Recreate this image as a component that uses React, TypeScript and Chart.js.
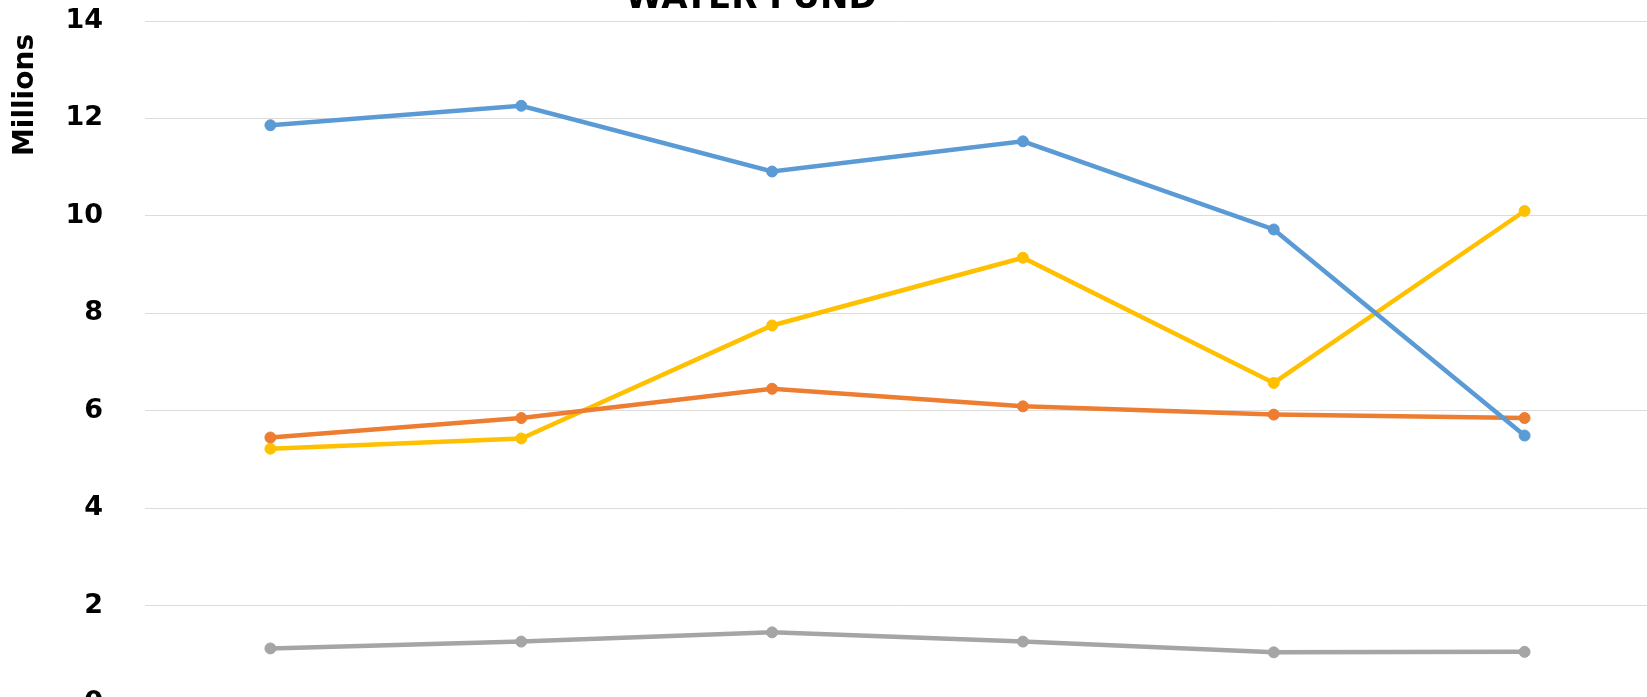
import React, { useEffect, useRef } from "react";
import { Chart, registerables } from "chart.js";

Chart.register(...registerables);

// Category labels are cropped off the bottom of the reference image
const categories = ["1", "2", "3", "4", "5", "6"];

const seriesBlue = [11.86, 12.26, 10.91, 11.53, 9.72, 5.49];
const seriesOrange = [5.45, 5.85, 6.45, 6.09, 5.92, 5.85];
const seriesGray = [1.12, 1.26, 1.45, 1.26, 1.04, 1.05];
const seriesYellow = [5.22, 5.43, 7.75, 9.14, 6.57, 10.1];

const seriesNames = ["Series 1", "Series 2", "Series 3", "Series 4"];

const yTicks = [0, 2, 4, 6, 8, 10, 12, 14];

const chartTitle = "WATER FUND";
const yAxisTitle = "Millions";

const TOP_OFFSET = 40;
const CANVAS_W = 1660;
const CANVAS_H = 750;

export default function App() {
  const ref = useRef<HTMLCanvasElement | null>(null);

  useEffect(() => {
    document.body.style.margin = "0";
    const canvas = ref.current;
    if (!canvas) return;

    const textPlugin = {
      id: "textPlugin",
      afterDraw(chart: any) {
        const ctx = chart.ctx;
        ctx.save();
        // chart title (only its lower part is visible in the frame)
        ctx.font = "bold 34px 'DejaVu Sans'";
        ctx.fillStyle = "#000000";
        ctx.textAlign = "center";
        ctx.textBaseline = "alphabetic";
        ctx.fillText(chartTitle, 751, TOP_OFFSET + 8);
        // y axis title
        ctx.translate(26, TOP_OFFSET + 95);
        ctx.rotate(-Math.PI / 2);
        ctx.font = "bold 28px 'DejaVu Sans'";
        ctx.textBaseline = "middle";
        ctx.fillText(yAxisTitle, 0, 0);
        ctx.restore();
      },
    };

    const mk = (label: string, data: number[], color: string) => ({
      label,
      data,
      borderColor: color,
      backgroundColor: color,
      borderWidth: 4.5,
      pointRadius: 5.5,
      pointBorderWidth: 1,
      pointBackgroundColor: color,
      pointBorderColor: color,
      tension: 0,
    });

    const chart = new Chart(canvas, {
      type: "line",
      data: {
        labels: categories,
        datasets: [
          mk(seriesNames[0], seriesBlue, "#5B9BD5"),
          mk(seriesNames[1], seriesOrange, "#ED7D31"),
          mk(seriesNames[2], seriesGray, "#A5A5A5"),
          mk(seriesNames[3], seriesYellow, "#FFC000"),
        ],
      },
      options: {
        responsive: false,
        animation: false,
        layout: { padding: { top: TOP_OFFSET + 21, bottom: 7, left: 0, right: 10 } },
        plugins: {
          legend: { display: false },
          tooltip: { enabled: false },
          title: { display: false },
        },
        scales: {
          x: {
            type: "category",
            offset: true,
            grid: { display: false, drawTicks: false },
            border: { display: false },
            ticks: { display: false },
          },
          y: {
            min: 0,
            max: 14,
            afterFit(scale: any) {
              scale.width = 145;
              scale.paddingTop = 0;
              scale.paddingBottom = 0;
            },
            afterBuildTicks(scale: any) {
              scale.ticks = yTicks.map((v) => ({ value: v }));
            },
            grid: { color: "#DCDCDC", lineWidth: 1, drawTicks: false },
            border: { display: false },
            ticks: {
              padding: 42,
              color: "#000000",
              font: { family: "'DejaVu Sans'", size: 27, weight: "bold" },
            },
          },
        },
      },
      plugins: [textPlugin],
    });

    return () => chart.destroy();
  }, []);

  return (
    <div
      style={{
        position: "fixed",
        left: 0,
        top: 0,
        width: 1647,
        height: 697,
        overflow: "hidden",
        background: "#ffffff",
      }}
    >
      <canvas
        ref={ref}
        width={CANVAS_W}
        height={CANVAS_H}
        style={{ position: "absolute", left: 0, top: -TOP_OFFSET, display: "block" }}
      />
    </div>
  );
}
